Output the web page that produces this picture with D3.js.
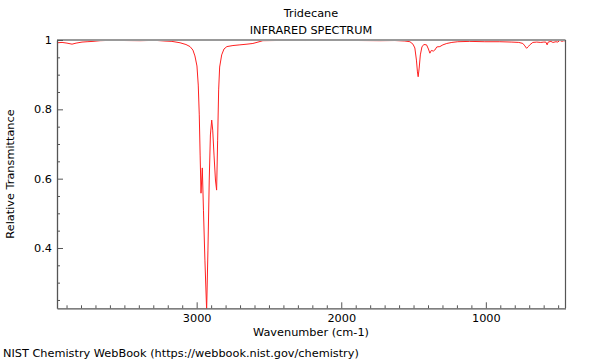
<!DOCTYPE html>
<html>
<head>
<meta charset="utf-8">
<script src="https://cdn.jsdelivr.net/npm/d3@7"></script>
<style>
  html, body { margin: 0; padding: 0; background: #fff; }
  svg { display: block; }
  text { font-family: "DejaVu Sans", sans-serif; fill: #000; }
</style>
</head>
<body>
<svg id="chart" width="600" height="360"></svg>
<script>
// ---- data ----
const title = "Tridecane";
const subtitle = "INFRARED SPECTRUM";
const xLabel = "Wavenumber (cm-1)";
const yLabel = "Relative Transmittance";
const footer = "NIST Chemistry WebBook (https://webbook.nist.gov/chemistry)";

const xDomain = [3966, 449];
const yDomain = [0.226, 1.0];
const xMajorTicks = [3000, 2000, 1000];
const yMajorTicks = [0.4, 0.6, 0.8, 1];

const wavenumbers = [
  3966, 3931, 3897, 3862, 3834, 3793, 3758, 3717, 3668, 3599, 3496, 3392, 3288, 3219, 3171,
  3115, 3074, 3046, 3026, 3012, 2998, 2989, 2982, 2976, 2970, 2961, 2953, 2943, 2931, 2922,
  2913, 2905, 2896, 2889, 2880, 2870, 2862, 2855, 2848, 2841, 2827, 2811, 2791, 2749, 2701,
  2652, 2611, 2576, 2542, 2459, 2355, 2251, 2148, 2009, 1871, 1733, 1629, 1560, 1525, 1504,
  1491, 1480, 1473, 1468, 1461, 1453, 1442, 1429, 1410, 1397, 1387, 1377, 1363, 1353, 1339,
  1318, 1297, 1270, 1235, 1194, 1111, 1007, 903, 820, 772, 744, 730, 718, 706, 696,
  675, 648, 620, 599, 585, 576, 569, 550, 536, 515, 502, 488, 474, 460, 449
];
const transmittance = [
  0.992, 0.993, 0.991, 0.988, 0.991, 0.994, 0.995, 0.996, 0.998, 0.999, 0.9985, 0.998, 0.999, 0.997, 0.996,
  0.992, 0.987, 0.981, 0.971, 0.954, 0.925, 0.870, 0.784, 0.668, 0.558, 0.631, 0.509, 0.365, 0.220, 0.394,
  0.596, 0.726, 0.769, 0.740, 0.668, 0.596, 0.567, 0.711, 0.856, 0.922, 0.957, 0.974, 0.981, 0.984, 0.986,
  0.988, 0.990, 0.994, 0.998, 0.9985, 0.999, 0.9985, 0.999, 0.999, 0.9985, 0.998, 0.9985, 0.997, 0.995, 0.988,
  0.977, 0.942, 0.908, 0.894, 0.919, 0.957, 0.980, 0.987, 0.986, 0.974, 0.962, 0.970, 0.968, 0.971, 0.980,
  0.981, 0.986, 0.990, 0.993, 0.995, 0.996, 0.995, 0.995, 0.994, 0.993, 0.990, 0.983, 0.976, 0.981, 0.986,
  0.993, 0.994, 0.993, 0.994, 0.994, 0.986, 0.994, 0.996, 0.993, 0.995, 0.994, 0.999, 0.996, 0.998, 0.997
];

// ---- layout ----
const svg = d3.select("#chart");
const mLeft = 57, mRight = 565.5, mTop = 40, mBottom = 308.3;
const fs = 11.3;

const x = d3.scaleLinear().domain(xDomain).range([mLeft, mRight]);
const y = d3.scaleLinear().domain(yDomain).range([mBottom, mTop]);

svg.append("defs").append("clipPath").attr("id", "plotclip")
  .append("rect").attr("x", mLeft).attr("y", mTop).attr("width", mRight - mLeft).attr("height", mBottom - mTop);

// spectrum
const pts = wavenumbers.map((w, i) => [w, transmittance[i]]);
svg.append("path")
  .datum(pts)
  .attr("clip-path", "url(#plotclip)")
  .attr("fill", "none")
  .attr("stroke", "#ff2020")
  .attr("stroke-width", 1)
  .attr("stroke-linejoin", "round")
  .attr("d", d3.line().x(d => x(d[0])).y(d => y(d[1])));

// frame: top gray, right dark
svg.append("line").attr("x1", mLeft).attr("x2", mRight).attr("y1", mTop).attr("y2", mTop)
  .attr("stroke", "#999").attr("stroke-width", 2);
svg.append("line").attr("x1", mRight).attr("x2", mRight).attr("y1", mTop).attr("y2", mBottom)
  .attr("stroke", "#555").attr("stroke-width", 1.2);

// x minor ticks
const xMinor = d3.range(500, 4000, 100).filter(v => !xMajorTicks.includes(v));
const gxMinor = svg.append("g").attr("transform", `translate(0,${mBottom})`)
  .call(d3.axisBottom(x).tickValues(xMinor).tickSize(-3).tickFormat(""));
gxMinor.select(".domain").remove();
gxMinor.selectAll("line").attr("stroke", "#555");

const gx = svg.append("g").attr("transform", `translate(0,${mBottom})`)
  .call(d3.axisBottom(x).tickValues(xMajorTicks).tickSize(-6).tickPadding(4).tickFormat(d3.format("d")).tickSizeOuter(0));
gx.select(".domain").attr("stroke", "#555").attr("stroke-width", 1.3);
gx.selectAll("line").attr("stroke", "#555");
gx.selectAll("text").attr("font-size", fs).attr("font-family", "DejaVu Sans").attr("fill", "#000").attr("dy", "0.9em");

// y minor ticks
const yMinor = d3.range(0.25, 1.0, 0.05).map(v => +v.toFixed(2)).filter(v => !yMajorTicks.some(m => Math.abs(m - v) < 1e-6));
const gyMinor = svg.append("g").attr("transform", `translate(${mLeft},0)`)
  .call(d3.axisLeft(y).tickValues(yMinor).tickSize(-3).tickFormat(""));
gyMinor.select(".domain").remove();
gyMinor.selectAll("line").attr("stroke", "#555");

const gy = svg.append("g").attr("transform", `translate(${mLeft},0)`)
  .call(d3.axisLeft(y).tickValues(yMajorTicks).tickSize(-6).tickPadding(5).tickFormat(d => d === 1 ? "1" : d3.format(".1f")(d)).tickSizeOuter(0));
gy.select(".domain").attr("stroke", "#555").attr("stroke-width", 1.3);
gy.selectAll("line").attr("stroke", "#555");
gy.selectAll("text").attr("font-size", fs).attr("font-family", "DejaVu Sans").attr("fill", "#000");

// titles
const cx = 311;
svg.append("text").attr("x", cx).attr("y", 17).attr("text-anchor", "middle").attr("font-size", fs).text(title);
svg.append("text").attr("x", cx).attr("y", 34).attr("text-anchor", "middle").attr("font-size", fs).text(subtitle);
svg.append("text").attr("x", cx).attr("y", 336).attr("text-anchor", "middle").attr("font-size", fs).text(xLabel);
svg.append("text").attr("transform", `translate(14,174) rotate(-90)`).attr("text-anchor", "middle").attr("font-size", fs).text(yLabel);
svg.append("text").attr("x", 3).attr("y", 357).attr("font-size", fs).text(footer);
</script>
</body>
</html>
